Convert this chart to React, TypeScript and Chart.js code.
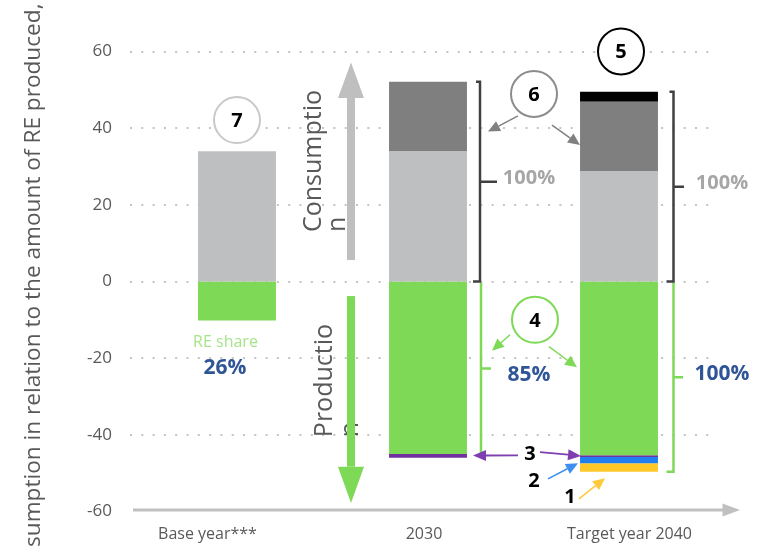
import React, { useEffect, useRef } from "react";
import { Chart, registerables } from "chart.js";
Chart.register(...registerables);

// ---------- data ----------
const categories = ["Base year***", "2030", "Target year 2040"];
const consumptionBase = [34.0, 33.9, 28.7];
const consumptionAdded = [null, 18.2, 18.2];
const consumptionOther = [null, null, 2.6];
const reProduction = [-10.2, -45.0, -45.3];
const source3 = [null, -1.0, -0.5];
const source2 = [null, null, -1.6];
const source1 = [null, null, -2.2];
const yTicks = [60, 40, 20, 0, -20, -40, -60];
const reShareLabels = ["26%", "85%", "100%"];
const consumptionShareLabels = ["100%", "100%"];
const yTitle = "Consumption in relation to the amount of RE produced, %";
const consumptionWord = ["Consumptio", "n"];
const productionWord = ["Productio", "n"];
const reShareText = "RE share";

const FONT = '"Open Sans", sans-serif';
const TEXT = "#595959";
const GREEN = "#7ED957";
const LGRAY = "#BEBFC1";
const DGRAY = "#7F7F7F";
const PURPLE = "#7030A0";
const BLUE = "#1F7FEF";
const YELLOW = "#FFC828";
const NAVY = "#2F5597";

const sumAt = (i: number, arrs: (number | null)[][]) =>
  arrs.reduce((s, a) => s + (a[i] ?? 0), 0);

function arrow(ctx: CanvasRenderingContext2D, x1: number, y1: number, x2: number, y2: number, color: string, lw = 1.5, head = 12, hw = 5.5) {
  const a = Math.atan2(y2 - y1, x2 - x1);
  const bx = x2 - head * Math.cos(a), by = y2 - head * Math.sin(a);
  ctx.save();
  ctx.strokeStyle = color; ctx.fillStyle = color; ctx.lineWidth = lw;
  ctx.beginPath(); ctx.moveTo(x1, y1); ctx.lineTo(bx, by); ctx.stroke();
  ctx.beginPath();
  ctx.moveTo(x2, y2);
  ctx.lineTo(bx - hw * Math.sin(a), by + hw * Math.cos(a));
  ctx.lineTo(bx + hw * Math.sin(a), by - hw * Math.cos(a));
  ctx.closePath(); ctx.fill();
  ctx.restore();
}

function bigArrow(ctx: CanvasRenderingContext2D, x: number, yFrom: number, yBase: number, yTip: number, color: string) {
  ctx.save();
  ctx.fillStyle = color;
  ctx.fillRect(x - 4, Math.min(yFrom, yBase), 8, Math.abs(yBase - yFrom));
  ctx.beginPath();
  ctx.moveTo(x, yTip); ctx.lineTo(x - 13, yBase); ctx.lineTo(x + 13, yBase); ctx.closePath(); ctx.fill();
  ctx.restore();
}

function circleNum(ctx: CanvasRenderingContext2D, x: number, y: number, r: number, stroke: string, label: string) {
  ctx.save();
  ctx.beginPath(); ctx.arc(x, y, r, 0, Math.PI * 2);
  ctx.fillStyle = "#fff"; ctx.fill();
  ctx.lineWidth = 2; ctx.strokeStyle = stroke; ctx.stroke();
  ctx.fillStyle = "#000"; ctx.font = `bold 20px ${FONT}`;
  ctx.textAlign = "center"; ctx.textBaseline = "middle";
  ctx.fillText(label, x, y + 1);
  ctx.restore();
}

function text(ctx: CanvasRenderingContext2D, s: string, x: number, y: number, font: string, color: string, align: CanvasTextAlign = "center") {
  ctx.save();
  ctx.font = font; ctx.fillStyle = color; ctx.textAlign = align; ctx.textBaseline = "middle";
  ctx.fillText(s, x, y);
  ctx.restore();
}

function rotatedLines(ctx: CanvasRenderingContext2D, lines: string[], xs: number[], yStart: number, font: string, color: string) {
  lines.forEach((l, k) => {
    ctx.save();
    ctx.translate(xs[k], yStart);
    ctx.rotate(-Math.PI / 2);
    ctx.font = font; ctx.fillStyle = color; ctx.textAlign = "left"; ctx.textBaseline = "middle";
    ctx.fillText(l, 0, 0);
    ctx.restore();
  });
}

const annotations = {
  id: "annotations",
  beforeDatasetsDraw(chart: any) {
    const { ctx, chartArea, scales: { y } } = chart;
    ctx.save();
    ctx.strokeStyle = "#C4C4C4"; ctx.lineWidth = 2; ctx.setLineDash([2, 9.3]);
    for (const t of yTicks) {
      if (t === y.min) continue;
      const py = Math.round(y.getPixelForValue(t));
      ctx.beginPath(); ctx.moveTo(chartArea.left - 11.5, py); ctx.lineTo(chartArea.right, py); ctx.stroke();
    }
    ctx.restore();
    // y tick labels
    for (const t of yTicks) {
      text(ctx, String(t), chartArea.left - 29.5, y.getPixelForValue(t), `17px ${FONT}`, TEXT, "right");
    }
  },
  afterDatasetsDraw(chart: any) {
    const { ctx, chartArea, scales: { x, y } } = chart;
    const X = (i: number, dx = 0) => x.getPixelForValue(i) + dx;
    const Y = (v: number) => y.getPixelForValue(v);
    const posArrs = [consumptionBase, consumptionAdded, consumptionOther];
    const negArrs = [reProduction, source3, source2, source1];

    // x axis line with arrow
    const axY = chartArea.bottom - 1.5;
    ctx.save();
    ctx.strokeStyle = "#C0C0C0"; ctx.fillStyle = "#C0C0C0"; ctx.lineWidth = 3;
    ctx.beginPath(); ctx.moveTo(chartArea.left - 8.5, axY); ctx.lineTo(chartArea.right + 10, axY); ctx.stroke();
    ctx.beginPath(); ctx.moveTo(chartArea.right + 25.5, axY); ctx.lineTo(chartArea.right + 8, axY - 6.5); ctx.lineTo(chartArea.right + 8, axY + 6.5); ctx.closePath(); ctx.fill();
    ctx.restore();

    // x category labels
    const lblDx = [-29.5, -4, 10.5];
    categories.forEach((c, i) => text(ctx, c, X(i, lblDx[i]), chartArea.bottom + 23, `16px ${FONT}`, TEXT));

    // y title (clipped by canvas as in the reference)
    ctx.save();
    ctx.font = `20px ${FONT}`;
    const visible = yTitle.slice(3, yTitle.length - 2);
    const scale = 544 / ctx.measureText(visible).width;
    const fs = 20 * scale;
    ctx.font = `${fs}px ${FONT}`;
    const pre = ctx.measureText(yTitle.slice(0, 3)).width;
    ctx.translate(40, 547 + pre);
    ctx.rotate(-Math.PI / 2);
    ctx.fillStyle = TEXT; ctx.textAlign = "left"; ctx.textBaseline = "alphabetic";
    ctx.fillText(yTitle, 0, 0);
    ctx.restore();

    // consumption / production big arrows and words
    rotatedLines(ctx, consumptionWord, [X(1, -114), X(1, -90)], Y(12.9), `25px ${FONT}`, TEXT);
    rotatedLines(ctx, productionWord, [X(1, -103), X(1, -77)], Y(-40.6), `25px ${FONT}`, TEXT);
    bigArrow(ctx, X(1, -77), Y(5.6), Y(47.9), Y(57.1), "#BFBFBF");
    bigArrow(ctx, X(1, -77), Y(-3.8), Y(-48.3), Y(-57.8), GREEN);

    // base year RE share
    text(ctx, reShareText, X(0, -11.5), Y(-16.0), `16px ${FONT}`, "#A6E58A");
    text(ctx, reShareLabels[0], X(0, -12), Y(-22.6), `bold 21px ${FONT}`, NAVY);
    circleNum(ctx, X(0, 0), Y(42.1), 23, "#C8C8C8", "7");

    // consumption brackets (dark)
    const brDark = (i: number, dx: number, tickDx: number, label: string, labelDx: number) => {
      const top = Y(sumAt(i, posArrs)), bot = Y(0), bx = X(i, dx);
      const mid = (top + bot) / 2;
      ctx.save();
      ctx.strokeStyle = "#404040"; ctx.lineWidth = 2.5;
      ctx.beginPath();
      ctx.moveTo(bx - 4, top); ctx.lineTo(bx, top); ctx.lineTo(bx, bot); ctx.lineTo(bx - 7, bot);
      ctx.moveTo(bx, mid); ctx.lineTo(X(i, tickDx), mid);
      ctx.stroke();
      ctx.restore();
      text(ctx, label, X(i, labelDx), mid - 3, `bold 20px ${FONT}`, "#A6A6A6");
    };
    brDark(1, 52, 69, consumptionShareLabels[0], 101);
    brDark(2, 54.5, 65, consumptionShareLabels[1], 103);

    // production brackets (green)
    const brGreen = (i: number, dx: number, botVal: number, hook: boolean, tickDx: number, label: string, labelDx: number, labelDy: number) => {
      const top = Y(-0.4), bot = Y(botVal), bx = X(i, dx);
      const mid = (top + bot) / 2;
      ctx.save();
      ctx.strokeStyle = GREEN; ctx.lineWidth = 2.5;
      ctx.beginPath();
      ctx.moveTo(bx, top); ctx.lineTo(bx, bot); if (hook) ctx.lineTo(bx - 7, bot);
      ctx.moveTo(bx, mid); ctx.lineTo(X(i, tickDx), mid);
      ctx.stroke();
      ctx.restore();
      text(ctx, label, X(i, labelDx), mid + labelDy, `bold 21px ${FONT}`, NAVY);
    };
    brGreen(1, 53, reProduction[1], false, 63, reShareLabels[1], 101, 6);
    brGreen(2, 54.5, sumAt(2, negArrs), true, 64, reShareLabels[2], 103, -3);

    // circle 6 (consumption growth)
    circleNum(ctx, X(1, 106), Y(48.9), 23, "#8C8C8C", "6");
    arrow(ctx, X(1, 90), Y(43.2), X(1, 60), Y(39.1), "#808080");
    arrow(ctx, X(1, 124), Y(40.8), X(2, -39), Y(35.6), "#808080");

    // circle 4 (RE production)
    circleNum(ctx, X(1, 107), Y(-10.0), 23, GREEN, "4");
    arrow(ctx, X(1, 82), Y(-13.9), X(1, 64), Y(-18.05), GREEN);
    arrow(ctx, X(1, 121), Y(-17.0), X(2, -42), Y(-22.4), GREEN);

    // circle 5
    circleNum(ctx, X(2, 2), Y(60.0), 23, "#000", "5");

    // 3, 2, 1 labels
    text(ctx, "3", X(1, 102), Y(-45.1), `bold 20px ${FONT}`, "#000");
    arrow(ctx, X(1, 90), Y(-45.35), X(1, 45), Y(-45.4), "#7F3FB0", 1.8, 13, 5.5);
    arrow(ctx, X(1, 112), Y(-44.5), X(2, -38), Y(-45.5), "#7F3FB0", 1.8, 13, 5.5);
    text(ctx, "2", X(1, 106), Y(-52.2), `bold 20px ${FONT}`, "#000");
    arrow(ctx, X(1, 120), Y(-51.5), X(2, -41), Y(-47.4), "#3D8EF0");
    text(ctx, "1", X(2, -49), Y(-56.3), `bold 20px ${FONT}`, "#000");
    arrow(ctx, X(2, -40), Y(-56.7), X(2, -14), Y(-51.3), "#FFC93C");
  },
};

export default function App() {
  const ref = useRef<HTMLCanvasElement>(null);
  useEffect(() => {
    document.body.style.margin = "0";
    const canvas = ref.current!;
    const ds = (label: string, data: (number | null)[], color: string) => ({
      label, data, backgroundColor: color, borderWidth: 0, stack: "s",
      categoryPercentage: 1, barPercentage: 0.408,
    });
    const chart = new Chart(canvas, {
      type: "bar",
      data: {
        labels: categories,
        datasets: [
          ds("Consumption", consumptionBase, LGRAY),
          ds("Consumption growth", consumptionAdded, DGRAY),
          ds("Other consumption", consumptionOther, "#000000"),
          ds("RE production", reProduction, GREEN),
          ds("Source 3", source3, PURPLE),
          ds("Source 2", source2, BLUE),
          ds("Source 1", source1, YELLOW),
        ],
      },
      options: {
        responsive: false,
        animation: false,
        devicePixelRatio: 1,
        layout: { padding: { top: 51.5, right: 43.5, left: 0, bottom: 0 } },
        plugins: { legend: { display: false }, tooltip: { enabled: false }, title: { display: false } },
        scales: {
          x: {
            stacked: true,
            grid: { display: false, drawTicks: false },
            border: { display: false },
            ticks: { display: false },
            afterFit: (s: any) => { s.height = 35.5; },
          },
          y: {
            stacked: true,
            min: -60, max: 60,
            grid: { display: false, drawTicks: false },
            border: { display: false },
            ticks: { display: false, stepSize: 20 },
            afterFit: (s: any) => { s.width = 141.5; },
          },
        },
      },
      plugins: [annotations],
    } as any);
    return () => chart.destroy();
  }, []);
  return <canvas ref={ref} width={758} height={547} style={{ display: "block" }} />;
}
